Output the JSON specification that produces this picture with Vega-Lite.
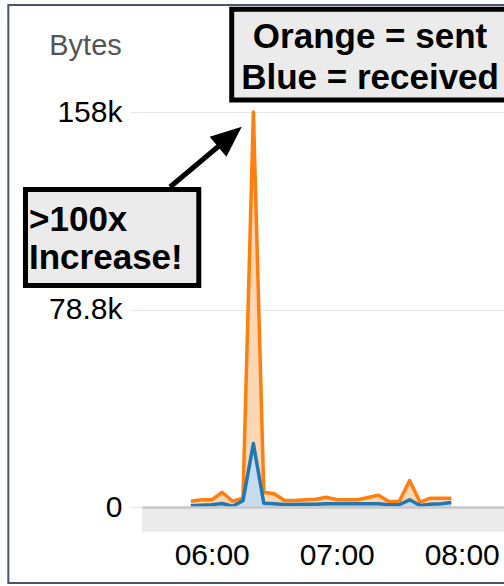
{
  "$schema": "https://vega.github.io/schema/vega-lite/v6.json",
  "width": 362,
  "height": 395,
  "autosize": {"type": "none"},
  "padding": {"left": 142, "top": 112, "right": 0, "bottom": 79},
  "background": "white",
  "config": {"view": {"stroke": null}, "font": "Liberation Sans"},
  "datasets": {
    "traffic": [
      {"t": "2024-01-01T05:50:00", "s": "sent", "v": 2300},
      {"t": "2024-01-01T05:55:00", "s": "sent", "v": 2870},
      {"t": "2024-01-01T06:00:00", "s": "sent", "v": 2870},
      {"t": "2024-01-01T06:05:00", "s": "sent", "v": 5900},
      {"t": "2024-01-01T06:10:00", "s": "sent", "v": 2300},
      {"t": "2024-01-01T06:15:00", "s": "sent", "v": 3500},
      {"t": "2024-01-01T06:20:00", "s": "sent", "v": 157600},
      {"t": "2024-01-01T06:25:00", "s": "sent", "v": 5900},
      {"t": "2024-01-01T06:30:00", "s": "sent", "v": 5270},
      {"t": "2024-01-01T06:35:00", "s": "sent", "v": 2600},
      {"t": "2024-01-01T06:40:00", "s": "sent", "v": 2600},
      {"t": "2024-01-01T06:45:00", "s": "sent", "v": 2870},
      {"t": "2024-01-01T06:50:00", "s": "sent", "v": 3110},
      {"t": "2024-01-01T06:55:00", "s": "sent", "v": 3910},
      {"t": "2024-01-01T07:00:00", "s": "sent", "v": 2870},
      {"t": "2024-01-01T07:05:00", "s": "sent", "v": 2870},
      {"t": "2024-01-01T07:10:00", "s": "sent", "v": 2870},
      {"t": "2024-01-01T07:15:00", "s": "sent", "v": 3790},
      {"t": "2024-01-01T07:20:00", "s": "sent", "v": 4710},
      {"t": "2024-01-01T07:25:00", "s": "sent", "v": 2200},
      {"t": "2024-01-01T07:30:00", "s": "sent", "v": 2200},
      {"t": "2024-01-01T07:35:00", "s": "sent", "v": 10580},
      {"t": "2024-01-01T07:40:00", "s": "sent", "v": 1920},
      {"t": "2024-01-01T07:45:00", "s": "sent", "v": 3510},
      {"t": "2024-01-01T07:50:00", "s": "sent", "v": 3510},
      {"t": "2024-01-01T07:55:00", "s": "sent", "v": 3510},
      {"t": "2024-01-01T05:50:00", "s": "received", "v": 480},
      {"t": "2024-01-01T05:55:00", "s": "received", "v": 720},
      {"t": "2024-01-01T06:00:00", "s": "received", "v": 880},
      {"t": "2024-01-01T06:05:00", "s": "received", "v": 1400},
      {"t": "2024-01-01T06:10:00", "s": "received", "v": 320},
      {"t": "2024-01-01T06:15:00", "s": "received", "v": 2480},
      {"t": "2024-01-01T06:20:00", "s": "received", "v": 25300},
      {"t": "2024-01-01T06:25:00", "s": "received", "v": 1520},
      {"t": "2024-01-01T06:30:00", "s": "received", "v": 1280},
      {"t": "2024-01-01T06:35:00", "s": "received", "v": 1000},
      {"t": "2024-01-01T06:40:00", "s": "received", "v": 1000},
      {"t": "2024-01-01T06:45:00", "s": "received", "v": 1120},
      {"t": "2024-01-01T06:50:00", "s": "received", "v": 1120},
      {"t": "2024-01-01T06:55:00", "s": "received", "v": 1280},
      {"t": "2024-01-01T07:00:00", "s": "received", "v": 1280},
      {"t": "2024-01-01T07:05:00", "s": "received", "v": 1280},
      {"t": "2024-01-01T07:10:00", "s": "received", "v": 1280},
      {"t": "2024-01-01T07:15:00", "s": "received", "v": 1280},
      {"t": "2024-01-01T07:20:00", "s": "received", "v": 1280},
      {"t": "2024-01-01T07:25:00", "s": "received", "v": 880},
      {"t": "2024-01-01T07:30:00", "s": "received", "v": 880},
      {"t": "2024-01-01T07:35:00", "s": "received", "v": 2870},
      {"t": "2024-01-01T07:40:00", "s": "received", "v": 600},
      {"t": "2024-01-01T07:45:00", "s": "received", "v": 1120},
      {"t": "2024-01-01T07:50:00", "s": "received", "v": 1280},
      {"t": "2024-01-01T07:55:00", "s": "received", "v": 1800}
    ],
    "frame": [
      {"t": "2024-01-01T04:22:22", "t2": "2024-01-01T08:40:00", "v": 200300, "v2": -30320}
    ],
    "band": [
      {"t": "2024-01-01T05:26:32", "t2": "2024-01-01T08:20:18", "v": 0, "v2": -9900}
    ],
    "boxes": [
      {"t": "2024-01-01T06:09:36", "t2": "2024-01-01T08:25:36", "v": 198620, "v2": 162390},
      {"t": "2024-01-01T04:30:36", "t2": "2024-01-01T05:53:48", "v": 126680, "v2": 88380}
    ],
    "legendNote": [
      {"t": "2024-01-01T07:16:00", "v": 187650, "label": "Orange = sent\nBlue = received"}
    ],
    "increaseNote": [
      {"t": "2024-01-01T04:32:18", "v": 114510, "label": ">100x\nIncrease!"}
    ],
    "arrow": [
      {"t": "2024-01-01T05:40:00", "v": 127680, "t2": "2024-01-01T06:08:44", "v2": 147710}
    ]
  },
  "encoding": {
    "x": {
      "field": "t",
      "type": "temporal",
      "scale": {
        "type": "time",
        "nice": false,
        "domain": [
          {"year": 2024, "month": 1, "date": 1, "hours": 5, "minutes": 26, "seconds": 32},
          {"year": 2024, "month": 1, "date": 1, "hours": 8, "minutes": 20, "seconds": 18}
        ]
      },
      "axis": {
        "title": null,
        "values": [
          {"year": 2024, "month": 1, "date": 1, "hours": 6},
          {"year": 2024, "month": 1, "date": 1, "hours": 7},
          {"year": 2024, "month": 1, "date": 1, "hours": 8}
        ],
        "format": "%H:%M",
        "grid": false,
        "ticks": false,
        "tickSize": 0,
        "domain": true,
        "domainColor": "#c8c8c8",
        "domainWidth": 2.5,
        "labelFont": "Liberation Sans",
        "labelFontSize": 30,
        "labelColor": "#000000",
        "labelBaseline": "middle",
        "labelPadding": 48,
        "labelFlush": false,
        "labelOverlap": false,
        "zindex": 1
      }
    },
    "y": {
      "field": "v",
      "type": "quantitative",
      "scale": {"domain": [0, 157600], "nice": false, "zero": true},
      "axis": {
        "values": [0, 78800, 157600],
        "format": ".3~s",
        "grid": true,
        "gridColor": "#e6e6e6",
        "gridWidth": 1,
        "domain": false,
        "ticks": true,
        "tickSize": 12,
        "tickColor": "#e6e6e6",
        "labelFont": "Liberation Sans",
        "labelFontSize": 30,
        "labelColor": "#000000",
        "labelPadding": 8,
        "labelOverlap": false,
        "title": "Bytes",
        "titleAngle": 0,
        "titleAlign": "center",
        "titleBaseline": "middle",
        "titleX": -57,
        "titleY": -67,
        "titleFont": "Liberation Sans",
        "titleFontSize": 29,
        "titleFontWeight": "normal",
        "titleColor": "#555555"
      }
    }
  },
  "layer": [
    {
      "data": {"name": "frame"},
      "mark": {"type": "rect", "fill": "transparent", "stroke": "#4a5568", "strokeWidth": 2},
      "encoding": {"x2": {"field": "t2"}, "y2": {"field": "v2"}}
    },
    {
      "data": {"name": "band"},
      "mark": {"type": "rect", "fill": "#ebebeb"},
      "encoding": {"x2": {"field": "t2"}, "y2": {"field": "v2"}}
    },
    {
      "data": {"name": "traffic"},
      "transform": [{"filter": "datum.s == 'sent'"}],
      "mark": {"type": "area", "fill": "#fdd6b3"}
    },
    {
      "data": {"name": "traffic"},
      "transform": [{"filter": "datum.s == 'received'"}],
      "mark": {"type": "area", "fill": "#c6dbee"}
    },
    {
      "data": {"name": "traffic"},
      "transform": [{"filter": "datum.s == 'sent'"}],
      "mark": {"type": "line", "stroke": "#ff7f0e", "strokeWidth": 3.5, "strokeJoin": "round"}
    },
    {
      "data": {"name": "traffic"},
      "transform": [{"filter": "datum.s == 'received'"}],
      "mark": {"type": "line", "stroke": "#1f77b4", "strokeWidth": 3.5, "strokeJoin": "round"}
    },
    {
      "data": {"name": "boxes"},
      "mark": {"type": "rect", "fill": "#ebebeb", "stroke": "#000000", "strokeWidth": 5},
      "encoding": {"x2": {"field": "t2"}, "y2": {"field": "v2"}}
    },
    {
      "data": {"name": "legendNote"},
      "mark": {"type": "text", "align": "center", "baseline": "middle", "lineBreak": "\n", "lineHeight": 41, "font": "Liberation Sans", "fontSize": 35, "fontWeight": "bold", "color": "#000000"},
      "encoding": {"text": {"field": "label", "type": "nominal"}}
    },
    {
      "data": {"name": "increaseNote"},
      "mark": {"type": "text", "align": "left", "baseline": "middle", "lineBreak": "\n", "lineHeight": 38, "font": "Liberation Sans", "fontSize": 35, "fontWeight": "bold", "color": "#000000"},
      "encoding": {"text": {"field": "label", "type": "nominal"}}
    },
    {
      "data": {"name": "arrow"},
      "mark": {"type": "rule", "color": "#000000", "strokeWidth": 5},
      "encoding": {"x2": {"field": "t2"}, "y2": {"field": "v2"}}
    },
    {
      "data": {"name": "arrow"},
      "mark": {"type": "point", "shape": "M0,-1L0.84,1L-0.84,1Z", "size": 961, "angle": 50, "filled": true, "color": "#000000", "opacity": 1},
      "encoding": {"x": {"field": "t2", "type": "temporal"}, "y": {"field": "v2", "type": "quantitative"}}
    }
  ]
}
